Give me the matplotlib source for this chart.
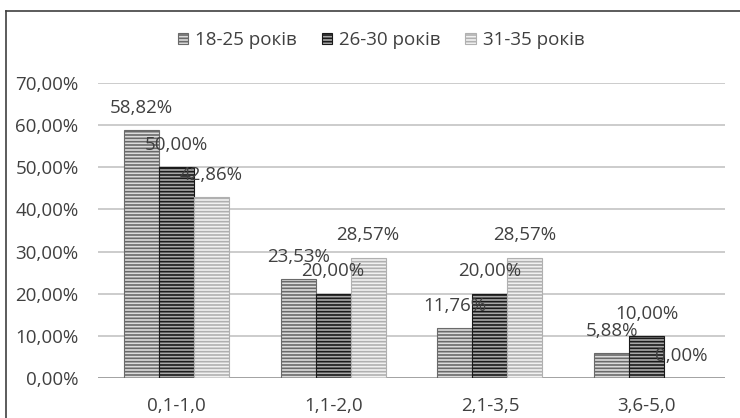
"""Clustered bar chart: share of respondents by age group and range."""
import matplotlib
matplotlib.use("Agg")
import matplotlib.pyplot as plt
import numpy as np
from matplotlib.lines import Line2D

# ─────────────────────────────────────────────────────────────────────────────
# Data
# ─────────────────────────────────────────────────────────────────────────────
categories = ["0,1-1,0", "1,1-2,0", "2,1-3,5", "3,6-5,0"]
series_names = ["18-25 років", "26-30 років", "31-35 років"]
vals_18_25 = [58.82, 23.53, 11.76, 5.88]
vals_26_30 = [50.00, 20.00, 20.00, 10.00]
vals_31_35 = [42.86, 28.57, 28.57, 0.00]
y_ticks = [0, 10, 20, 30, 40, 50, 60, 70]

# ─────────────────────────────────────────────────────────────────────────────
# Style
# ─────────────────────────────────────────────────────────────────────────────
plt.rcParams["font.family"] = ["Open Sans", "DejaVu Sans"]
plt.rcParams["hatch.linewidth"] = 1.2
TEXT = "#404040"
FACES = ["#dcdcdc", "#a8a8a8", "#f2f2f2"]
STRIPES = ["#6a6a6a", "#1a1a1a", "#b0b0b0"]
FS = 13.5

fig = plt.figure(figsize=(7.4, 4.18), dpi=100)
ax = fig.add_axes([98 / 740, 1 - 378 / 418, 627 / 740, 295 / 418])

x = np.arange(len(categories))
w = 0.223
series = [vals_18_25, vals_26_30, vals_31_35]

for i, (name, vals) in enumerate(zip(series_names, series)):
    bars = ax.bar(x + (i - 1) * w, vals, w, facecolor=FACES[i],
                  edgecolor=STRIPES[i], hatch="-----", linewidth=0.8,
                  label=name, zorder=3)
    for bar, v in zip(bars, vals):
        ax.annotate(f"{v:.2f}%".replace(".", ","),
                    (bar.get_x() + bar.get_width() / 2, v),
                    xytext=(0, 16), textcoords="offset points",
                    ha="center", va="center", fontsize=FS, color=TEXT,
                    zorder=4)

ax.set_xlim(-0.5, len(categories) - 0.5)
ax.set_ylim(0, 70)
ax.set_yticks(y_ticks)
ax.set_yticklabels([f"{t:.2f}%".replace(".", ",") for t in y_ticks])
ax.set_xticks(x)
ax.set_xticklabels(categories)
ax.tick_params(axis="both", length=0, labelsize=FS, labelcolor=TEXT)
ax.tick_params(axis="y", pad=14)
ax.tick_params(axis="x", pad=14)
for s in ax.spines.values():
    s.set_visible(False)
ax.grid(True, axis="y", color="#c8c8c8", linewidth=1.3, zorder=0)
ax.axhline(0, color="#a0a0a0", linewidth=2, zorder=2)

leg = fig.legend(loc="center", bbox_to_anchor=(0.515, 0.904), ncol=3,
                 frameon=False, fontsize=FS, handlelength=0.55,
                 handleheight=0.55, handletextpad=0.4, columnspacing=1.3,
                 labelcolor=TEXT)

# outer chart border: only left and top edges are inside the crop
bx, by = 6 / 740, 1 - 11 / 418
fig.add_artist(Line2D([bx, bx], [0, by], transform=fig.transFigure,
                      color="#404040", linewidth=1.2))
fig.add_artist(Line2D([bx, 1], [by, by], transform=fig.transFigure,
                      color="#404040", linewidth=1.2))

fig.savefig("out.png", dpi=100)
plt.close(fig)
